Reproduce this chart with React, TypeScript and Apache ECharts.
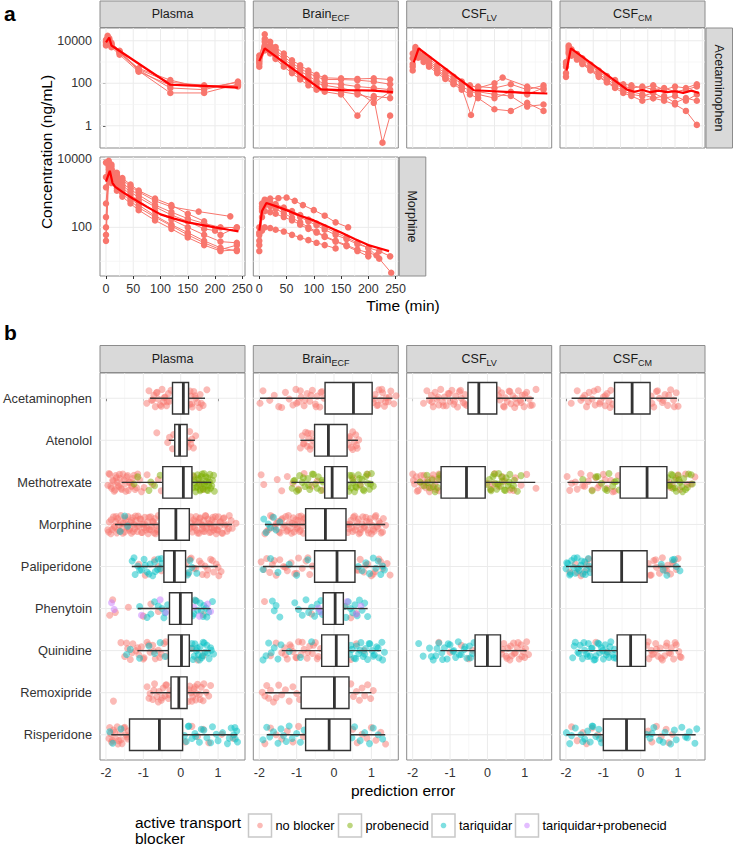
import React, { useEffect, useRef } from 'react';
import * as echarts from 'echarts';

const W = 734;
const H = 845;
const FONT = '"Liberation Sans", Arial, Helvetica, sans-serif';

// ---------- shared labels ----------
const DRUGS = ['Acetaminophen', 'Atenolol', 'Methotrexate', 'Morphine', 'Paliperidone', 'Phenytoin', 'Quinidine', 'Remoxipride', 'Risperidone'];
const BLOCKERS = ['no blocker', 'probenecid', 'tariquidar', 'tariquidar+probenecid'];
const BLOCKER_COLORS = ['#F8766D', '#7CAE00', '#00BFC4', '#C77CFF'];
const COMPARTMENTS = [
  { main: 'Plasma', sub: '' },
  { main: 'Brain', sub: 'ECF' },
  { main: 'CSF', sub: 'LV' },
  { main: 'CSF', sub: 'CM' },
];
const ROW_LABELS = ['Acetaminophen', 'Morphine'];
const TIME_TICKS = [0, 50, 100, 150, 200, 250];
const TIME_MINOR = [25, 75, 125, 175, 225];
const CONC_TICKS_ROW1 = [1, 100, 10000];
const CONC_MINOR_ROW1 = [10, 1000];
const CONC_TICKS_ROW2 = [100, 10000];
const CONC_MINOR_ROW2 = [10, 1000];
const PE_TICKS = [-2, -1, 0, 1];
const PE_MINOR = [-1.5, -0.5, 0.5, 1.5];
const DRUG_IDX = [0, 1, 2, 3, 4, 5, 6, 7, 8];

// ---------- panel a: concentration-time profiles (time min, ng/mL) ----------
const AP_SUBJ = [
  [[0, 9000], [3, 14000], [6, 11000], [10, 7000], [25, 3000], [60, 450], [118, 110], [180, 80], [242, 70]],
  [[0, 7000], [3, 12000], [6, 9000], [10, 6000], [25, 2600], [60, 420], [118, 60], [180, 50], [242, 120]],
  [[0, 11000], [3, 17000], [6, 13000], [10, 8000], [25, 3400], [60, 380], [118, 35], [180, 35], [242, 90]],
  [[0, 6000], [3, 10000], [6, 8000], [10, 5000], [25, 2200], [60, 350], [118, 80], [180, 70], [242, 80]],
  [[0, 8500], [3, 13000], [6, 10000], [10, 6500], [25, 2800], [60, 500], [118, 140], [180, 60], [242, 110]],
];
const AP_MEAN = [[0, 8300], [6, 14000], [10, 6000], [118, 85], [180, 75], [242, 63]];

const AB_SUBJ = [
  [[0, 2000], [10, 12000], [20, 6000], [30, 3500], [45, 1800], [60, 900], [75, 500], [90, 300], [105, 200], [120, 150], [150, 150], [180, 140], [210, 120], [240, 90]],
  [[0, 1200], [10, 6000], [20, 3500], [30, 2000], [45, 1000], [60, 500], [75, 280], [90, 160], [105, 100], [120, 80], [150, 60], [180, 40], [210, 12], [240, 40]],
  [[0, 600], [10, 3500], [20, 2500], [30, 1400], [45, 600], [60, 300], [75, 150], [90, 80], [105, 50], [120, 40], [150, 30], [180, 3], [210, 25], [240, 20]],
  [[0, 1500], [10, 20000], [20, 9000], [30, 5000], [45, 2500], [60, 1200], [75, 700], [90, 400], [105, 250], [120, 180], [150, 170], [180, 160], [210, 170], [240, 150]],
  [[0, 800], [10, 5000], [20, 3000], [30, 1600], [45, 800], [60, 400], [75, 200], [90, 120], [105, 70], [120, 50], [150, 40], [180, 30], [210, 20], [226, 0.16], [240, 3]],
  [[0, 1000], [10, 9000], [20, 5000], [30, 2800], [45, 1400], [60, 700], [75, 380], [90, 220], [105, 130], [120, 100], [150, 90], [180, 70], [210, 60], [240, 50]],
];
const AB_MEAN = [[0, 1100], [10, 4400], [113, 52], [150, 48], [180, 47], [210, 45], [245, 38]];

const AL_SUBJ = [
  [[0, 2500], [5, 5000], [10, 3500], [20, 2200], [30, 1400], [45, 700], [60, 380], [75, 200], [90, 120], [105, 80], [120, 60], [150, 100], [165, 185], [210, 70], [240, 50]],
  [[0, 800], [5, 3000], [10, 2500], [20, 1500], [30, 900], [45, 450], [60, 220], [75, 120], [90, 60], [107, 3.2], [120, 40], [150, 30], [180, 25], [210, 8], [240, 10]],
  [[0, 400], [5, 2000], [10, 1600], [20, 1000], [30, 600], [45, 300], [60, 160], [75, 90], [90, 50], [105, 30], [120, 20], [150, 6], [180, 5], [210, 12], [240, 5]],
  [[0, 1500], [5, 4000], [10, 3000], [20, 1900], [30, 1100], [45, 550], [60, 300], [75, 160], [90, 100], [105, 70], [120, 70], [150, 60], [180, 90], [210, 50], [240, 80]],
  [[0, 600], [5, 2500], [10, 2000], [20, 1300], [30, 700], [45, 380], [60, 190], [75, 100], [90, 70], [105, 45], [120, 30], [150, 20], [180, 40], [210, 30], [240, 60]],
];
const AL_MEAN = [[2, 950], [11, 4400], [112, 47], [150, 42], [200, 36], [247, 33]];

const AC_SUBJ = [
  [[0, 1000], [5, 5000], [10, 3500], [20, 2200], [30, 1300], [45, 650], [60, 350], [75, 190], [90, 110], [105, 70], [120, 60], [140, 70], [160, 50], [180, 60], [200, 40], [220, 50], [240, 70]],
  [[0, 200], [5, 3000], [10, 2500], [20, 1500], [30, 900], [45, 450], [60, 230], [75, 120], [90, 70], [105, 45], [120, 30], [140, 25], [160, 35], [180, 20], [200, 25], [220, 15], [240, 30]],
  [[0, 600], [5, 4000], [10, 3000], [20, 1800], [30, 1000], [45, 500], [60, 270], [75, 150], [90, 90], [105, 60], [120, 40], [140, 30], [160, 20], [180, 15], [200, 10], [220, 5], [240, 1.1]],
  [[0, 300], [5, 2500], [10, 2000], [20, 1300], [30, 800], [45, 400], [60, 200], [75, 110], [90, 60], [105, 35], [120, 25], [140, 15], [160, 20], [180, 25], [200, 12], [220, 20], [240, 15]],
  [[0, 800], [5, 6000], [10, 4000], [20, 2400], [30, 1500], [45, 750], [60, 400], [75, 220], [90, 140], [105, 90], [120, 80], [140, 60], [160, 80], [180, 50], [200, 70], [220, 60], [240, 90]],
];
const AC_MEAN = [[1, 400], [9, 4400], [112, 50], [125, 40], [140, 48], [155, 38], [170, 45], [185, 38], [200, 42], [215, 35], [230, 45], [244, 35]];

const MP_SUBJ = [
  [[0, 60], [5, 8000], [10, 6000], [20, 3500], [30, 2500], [45, 1600], [60, 1100], [90, 600], [120, 400], [170, 290], [228, 210]],
  [[0, 100], [5, 7000], [10, 5000], [20, 3000], [30, 2000], [45, 1300], [60, 900], [90, 450], [120, 280], [150, 180], [180, 130], [210, 100], [240, 98]],
  [[0, 500], [5, 6000], [10, 4000], [20, 2200], [30, 1500], [45, 900], [60, 600], [90, 300], [120, 170], [150, 100], [180, 60], [210, 38], [240, 35]],
  [[0, 1500], [5, 5000], [10, 3000], [20, 1800], [30, 1200], [45, 700], [60, 450], [90, 220], [120, 120], [150, 70], [180, 40], [210, 25], [240, 20]],
  [[0, 3000], [5, 9000], [10, 7000], [20, 4000], [30, 2800], [45, 1800], [60, 1200], [90, 700], [120, 450], [150, 250], [180, 150], [210, 60], [240, 100]],
  [[0, 200], [5, 4000], [10, 2500], [20, 1400], [30, 1000], [45, 600], [60, 380], [90, 200], [120, 110], [150, 60], [180, 35], [210, 22], [240, 30]],
  [[0, 8000], [5, 7500], [10, 4500], [20, 2600], [30, 1700], [45, 1100], [60, 750], [90, 400], [120, 230], [150, 150], [180, 90], [200, 80]],
  [[0, 40], [5, 3000], [10, 2000], [20, 1200], [30, 800], [45, 500], [60, 320], [90, 160], [120, 90], [150, 50], [180, 30], [210, 20], [240, 22]],
];
const MP_MEAN = [[0, 2200], [7, 4600], [12, 2000], [17, 1550], [30, 1100], [50, 690], [75, 400], [100, 240], [125, 180], [150, 140], [175, 118], [200, 100], [225, 85], [243, 76]];

const MB_SUBJ = [
  [[0, 60], [5, 400], [10, 650], [20, 700], [35, 720], [50, 750], [65, 600], [80, 450], [100, 320], [120, 220], [140, 140], [163, 100]],
  [[0, 100], [5, 500], [10, 600], [20, 550], [30, 480], [45, 380], [60, 300], [75, 230], [90, 170], [105, 130], [120, 100], [140, 70], [160, 50], [180, 35], [200, 25], [220, 12], [242, 4.6]],
  [[0, 40], [5, 300], [10, 450], [20, 420], [30, 350], [45, 260], [60, 190], [75, 140], [90, 100], [105, 75], [120, 55], [140, 40], [160, 30], [180, 22], [200, 18], [215, 15]],
  [[0, 20], [5, 80], [10, 100], [20, 95], [30, 85], [45, 75], [60, 60], [75, 50], [90, 42], [105, 35], [120, 30], [140, 24]],
  [[0, 70], [5, 350], [10, 500], [20, 480], [30, 420], [45, 340], [60, 260], [75, 200], [90, 150], [105, 115], [120, 85], [140, 60], [160, 45], [180, 32], [200, 25], [220, 20], [240, 14]],
  [[0, 30], [5, 200], [10, 300], [20, 280], [30, 250], [45, 200], [60, 160], [75, 120], [90, 90], [105, 70], [120, 52], [140, 38], [160, 28], [180, 20], [200, 14]],
];
const MB_MEAN = [[0, 80], [5, 300], [13, 520], [30, 420], [50, 320], [75, 220], [100, 160], [125, 105], [150, 70], [175, 45], [200, 30], [225, 23], [238, 20]];

// ---------- panel b: prediction error boxplots [drug, lower whisker, q1, median, q3, upper whisker] ----------
const BOX_PLASMA = [
  [0, -0.82, -0.22, 0.07, 0.21, 0.65],
  [1, -0.32, -0.16, -0.03, 0.17, 0.38],
  [2, -1.58, -0.48, 0.07, 0.30, 0.82],
  [3, -1.76, -0.58, -0.13, 0.23, 1.37],
  [4, -1.31, -0.45, -0.17, 0.13, 0.99],
  [5, -1.15, -0.30, -0.01, 0.30, 0.80],
  [6, -1.16, -0.33, 0.02, 0.23, 0.80],
  [7, -0.81, -0.26, -0.05, 0.17, 0.75],
  [8, -1.86, -1.37, -0.57, 0.05, 1.52],
];
const BOX_BRAIN = [
  [0, -1.98, -0.24, 0.52, 1.02, 1.56],
  [1, -0.90, -0.52, -0.15, 0.35, 0.64],
  [2, -1.14, -0.25, -0.05, 0.35, 1.05],
  [3, -1.85, -0.76, -0.23, 0.32, 1.37],
  [4, -1.90, -0.52, 0.08, 0.56, 1.37],
  [5, -1.04, -0.29, 0.03, 0.25, 0.90],
  [6, -1.40, -0.33, 0.06, 0.39, 1.26],
  [7, -1.84, -0.88, 0.01, 0.40, 1.00],
  [8, -1.80, -0.76, -0.13, 0.44, 1.37],
];
const BOX_LV = [
  [0, -1.64, -0.52, -0.23, 0.25, 1.24],
  [2, -1.96, -1.24, -0.56, -0.06, 1.28],
  [6, -1.26, -0.33, 0.00, 0.35, 1.05],
];
const BOX_CM = [
  [0, -1.85, -0.70, -0.23, 0.25, 0.97],
  [2, -1.96, -0.55, 0.17, 0.70, 1.46],
  [4, -2.00, -1.30, -0.51, 0.17, 1.07],
  [6, -1.68, -0.63, -0.27, 0.13, 1.00],
  [8, -1.99, -1.00, -0.38, 0.11, 1.47],
];

// jittered observations: [drug, blocker, prediction errors]
const PTS_PLASMA: [number, number, number[]][] = [
  [0, 0, [-0.91, -0.85, -0.78, -0.72, -0.68, -0.63, -0.6, -0.55, -0.5, -0.46, -0.42, -0.38, -0.33, -0.3, -0.26, 0.24, 0.27, 0.31, 0.35, 0.4, 0.45, 0.52, 0.6, 0.7]],
  [0, 0, [-0.75, -0.65, -0.52, -0.44, -0.36, 0.25, 0.3, 0.38, 0.5, 0.55]],
  [1, 0, [-0.64, -0.35, -0.3, -0.22, -0.19, 0.19, 0.21, 0.24, 0.27, 0.3, 0.34, 0.4]],
  [2, 0, [-1.95, -1.9, -1.85, -1.82, -1.78, -1.74, -1.7, -1.66, -1.62, -1.58, -1.55, -1.5, -1.45, -1.4, -1.35, -1.3, -1.25, -1.18, -1.1, -1.05, -0.98, -0.9, -0.75, -0.6, -0.52, 0.35, 0.5, 0.6]],
  [2, 0, [-1.92, -1.87, -1.8, -1.76, -1.72, -1.68, -1.64, -1.6, -1.52, -1.47, -1.42, -1.38, -1.32, -1.28, -1.22, -1.15]],
  [2, 1, [-1.25, -1.15, -0.85, -0.8, -0.7, -0.55, 0.32, 0.35, 0.4, 0.42, 0.45, 0.48, 0.5, 0.52, 0.55, 0.58, 0.6, 0.62, 0.65, 0.68, 0.7, 0.72, 0.75, 0.78, 0.8, 0.85, 0.9]],
  [2, 1, [0.33, 0.37, 0.44, 0.47, 0.53, 0.57, 0.63, 0.67, 0.73, 0.77, 0.83, 0.88]],
  [3, 0, [-1.95, -1.91, -1.87, -1.84, -1.8, -1.77, -1.74, -1.71, -1.69, -1.65, -1.63, -1.6, -1.56, -1.54, -1.5, -1.47, -1.43, -1.41, -1.38, -1.34, -1.32, -1.29, -1.25, -1.23, -1.2, -1.16, -1.14, -1.11, -1.07, -1.05, -1.02, -0.98, -0.96, -0.93, -0.89, -0.87, -0.84, -0.8, -0.78, -0.75, -0.71, -0.69, -0.66, -0.62, -0.6, 0.25, 0.29, 0.31, 0.35, 0.37, 0.41, 0.43, 0.47, 0.49, 0.52, 0.56, 0.58, 0.62, 0.64, 0.67, 0.71, 0.73, 0.77, 0.79, 0.82, 0.86, 0.88, 0.91, 0.95, 0.97, 1.01, 1.04, 1.07, 1.1, 1.14, 1.18, 1.24, 1.3, 1.38, 1.48]],
  [3, 0, [-1.93, -1.86, -1.79, -1.73, -1.67, -1.61, -1.55, -1.49, -1.43, -1.37, -1.31, -1.27, -1.21, -1.15, -1.09, -1.03, -0.97, -0.91, -0.85, -0.79, -0.73, -0.67, -0.63, 0.27, 0.33, 0.39, 0.45, 0.51, 0.57, 0.6, 0.66, 0.69, 0.75, 0.81, 0.84, 0.9, 0.93, 0.99, 1.05, 1.12, 1.16, 1.22, 1.28, 1.35]],
  [3, 2, [-1.62, -1.5, -1.42]],
  [4, 2, [-1.3, -1.22, -1.15, -1.05, -0.98, -0.9, -0.82, -0.75, -0.68, -0.6, -0.55, -0.5, 0.18, 0.25, 0.3, 0.43]],
  [4, 2, [-1.25, -1.1, -0.95, -0.85, -0.7, -0.62, -0.52, 0.22]],
  [4, 0, [-1.12, -0.95, -0.7, -0.6, -0.52, 0.15, 0.2, 0.28, 0.35, 0.5, 0.58, 0.65, 0.72, 0.8, 0.88, 0.95, 1.02, 1.08]],
  [4, 0, [0.25, 0.4, 0.55, 0.7, 0.85, 1.0]],
  [5, 0, [-1.9, -1.82, -1.75, -1.4, -1.0, -0.8, -0.6, 0.4, 0.6]],
  [5, 2, [-1.1, -0.9, -0.7, -0.5, -0.42, -0.35, 0.32, 0.38, 0.45, 0.52, 0.6, 0.68, 0.75, 0.85]],
  [5, 2, [-0.8, -0.6, -0.45, 0.35, 0.42, 0.55, 0.62, 0.7]],
  [5, 3, [-1.85, -1.78, -1.05, -0.55, -0.4, 0.35, 0.5, 0.72, 0.8]],
  [6, 0, [-1.6, -1.5, -1.42, -1.35, -1.28, -1.2, -1.12, -1.05, -0.98, -0.9, -0.82, -0.75, -0.68, -0.6, -0.52, -0.45, -0.38, 0.3, 0.45, 0.6]],
  [6, 0, [-1.45, -1.3, -1.15, -1.0, -0.86, -0.72, -0.56, -0.4]],
  [6, 2, [-1.45, -1.35, -1.1, -0.85, -0.7, -0.55, -0.42, 0.28, 0.33, 0.38, 0.42, 0.47, 0.52, 0.56, 0.6, 0.65, 0.7, 0.76, 0.82, 0.88]],
  [6, 2, [0.3, 0.36, 0.44, 0.5, 0.58, 0.63, 0.72, 0.8]],
  [7, 0, [-1.8, -0.9, -0.82, -0.75, -0.7, -0.64, -0.58, -0.52, -0.47, -0.42, -0.38, -0.33, -0.29, 0.2, 0.24, 0.28, 0.32, 0.36, 0.4, 0.45, 0.5, 0.55, 0.6, 0.68, 0.75, 0.8]],
  [7, 0, [-0.85, -0.72, -0.6, -0.5, -0.4, -0.31, 0.22, 0.3, 0.38, 0.42, 0.52, 0.62]],
  [8, 0, [-1.92, -1.88, -1.85, -1.8, -1.75, -1.7, -1.66, -1.62, -1.57, -1.52, -1.47, -1.42, -1.4, 0.12, 0.3, 0.45, 0.6, 0.75, 1.1, 1.4]],
  [8, 0, [-1.9, -1.83, -1.77, -1.68, -1.6, -1.5, -1.44]],
  [8, 2, [-1.9, -1.82, -1.6, 0.1, 0.15, 0.22, 0.3, 0.38, 0.5, 0.62, 0.7, 0.85, 1.0, 1.12, 1.25, 1.35, 1.42, 1.46, 1.5, 1.52]],
  [8, 2, [0.2, 0.4, 0.55, 0.8, 0.95, 1.3, 1.45]],
];
const PTS_BRAIN: [number, number, number[]][] = [
  [0, 0, [-1.98, -1.9, -1.72, -1.6, -1.48, -1.3, -1.2, -1.1, -1.02, -0.95, -0.88, -0.8, -0.72, -0.65, -0.58, -0.5, -0.45, -0.38, -0.32, -0.27, 1.05, 1.1, 1.15, 1.2, 1.25, 1.3, 1.35, 1.4, 1.45, 1.52, 1.6, 1.66]],
  [0, 0, [-1.4, -1.0, -0.9, -0.78, -0.62, -0.48, -0.35, 1.08, 1.18, 1.28, 1.38, 1.48]],
  [1, 0, [-0.9, -0.85, -0.8, -0.76, -0.72, -0.68, -0.64, -0.6, -0.56, 0.38, 0.42, 0.46, 0.5, 0.54, 0.58, 0.62, 0.66]],
  [1, 0, [-0.82, -0.7, -0.62, 0.4, 0.5, 0.6]],
  [2, 0, [-1.95, -1.88, -1.52, -1.4, -1.25, -1.1, -0.95, -0.8, -0.6, -0.45, -0.3, 0.5, 0.7, 0.9]],
  [2, 1, [-1.12, -1.05, -1.0, -0.92, -0.85, -0.78, -0.7, -0.65, -0.58, -0.5, -0.42, -0.35, -0.3, 0.38, 0.42, 0.46, 0.5, 0.55, 0.6, 0.65, 0.7, 0.75, 0.8, 0.85, 0.9, 0.95, 1.0, 1.05]],
  [2, 1, [-1.08, -0.95, -0.82, -0.68, -0.55, -0.45, -0.32, 0.4, 0.48, 0.52, 0.58, 0.68, 0.78, 0.88, 0.98]],
  [3, 2, [-1.88, -1.82, -1.76, -1.7, -1.62, -1.55, -1.45]],
  [3, 0, [-1.85, -1.75, -1.65, -1.58, -1.5, -1.44, -1.38, -1.32, -1.27, -1.22, -1.17, -1.12, -1.07, -1.02, -0.98, -0.94, -0.9, -0.86, -0.82, -0.78, 0.35, 0.4, 0.45, 0.5, 0.55, 0.6, 0.65, 0.7, 0.75, 0.8, 0.85, 0.9, 0.95, 1.0, 1.05, 1.1, 1.15, 1.2, 1.26, 1.32, 1.38]],
  [3, 0, [-1.8, -1.7, -1.6, -1.54, -1.47, -1.41, -1.35, -1.29, -1.24, -1.19, -1.14, -1.09, -1.04, -1.0, -0.96, -0.92, -0.88, -0.84, -0.8, 0.37, 0.42, 0.47, 0.52, 0.57, 0.62, 0.67, 0.72, 0.77, 0.82, 0.87, 0.92, 0.97, 1.02, 1.07, 1.12, 1.18, 1.23, 1.3]],
  [4, 0, [-1.95, -1.88, -1.8, -1.72, -1.65, -1.55, -1.45, -1.35, -1.25, -1.15, -1.05, -0.95, -0.85, -0.75, -0.65, -0.58, 0.6, 0.7, 0.8, 0.9, 1.0, 1.1, 1.2, 1.3, 1.42, 1.5]],
  [4, 0, [-1.6, -1.3, -1.0, -0.7, 0.65, 0.85, 1.05, 1.25]],
  [4, 2, [-1.9, -1.7, -1.5, -1.2, -1.0, -0.7, 0.65, 0.75, 0.85, 0.95, 1.05, 1.12, 1.18, 1.25, 1.3, 1.35]],
  [5, 0, [-1.86, -0.6, 0.3, 0.45, 0.6]],
  [5, 2, [-1.65, -1.6, -1.55, -1.45, -1.05, -0.95, -0.85, -0.75, -0.68, -0.6, -0.52, -0.45, -0.4, -0.35, -0.31, 0.28, 0.32, 0.38, 0.44, 0.5, 0.56, 0.62, 0.68, 0.75, 0.82, 0.9]],
  [5, 3, [-0.42, -0.35, 0.35, 0.6, 0.72]],
  [6, 2, [-1.9, -1.82, -1.75, -1.68, -1.6, -1.5, -1.42, -1.2, -0.9, -0.6, 0.42, 0.48, 0.54, 0.6, 0.66, 0.72, 0.78, 0.84, 0.9, 0.96, 1.02, 1.08, 1.14, 1.2, 1.28, 1.35]],
  [6, 2, [0.45, 0.58, 0.7, 0.82, 0.94, 1.05, 1.18, 1.3]],
  [6, 0, [-1.7, -1.55, -1.4, -1.32, -1.25, -1.18, -1.1, -1.02, -0.95, -0.88, -0.8, -0.72, -0.65, -0.58, -0.5, -0.42, -0.36, 0.45, 0.6, 0.8]],
  [6, 0, [-1.3, -1.15, -1.0, -0.85, -0.7, -0.55, -0.45]],
  [7, 0, [-1.92, -1.85, -1.8, -1.75, -1.7, -1.62, -1.55, -1.48, -1.4, -1.3, -1.2, -1.1, -1.0, -0.92, 0.45, 0.52, 0.6, 0.68, 0.75, 0.82, 0.9, 0.98, 1.05]],
  [8, 0, [-1.85, -1.7, -1.55, -1.4, -1.25, -1.1, -0.95, -0.82, 0.5, 0.62, 0.75, 0.88, 1.0, 1.12, 1.25, 1.38]],
  [8, 2, [-1.9, -1.8, -1.72, -1.62, -1.5, -1.42, -1.35, -1.28, -1.2, -1.12, -1.0, -0.9, -0.8, 0.48, 0.55, 0.7, 0.82, 0.95, 1.05, 1.18, 1.3]],
];
const PTS_LV: [number, number, number[]][] = [
  [0, 0, [-1.71, -1.62, -1.55, -1.5, -1.45, -1.4, -1.35, -1.3, -1.25, -1.2, -1.15, -1.1, -1.05, -1.0, -0.95, -0.9, -0.85, -0.8, -0.75, -0.7, -0.65, -0.6, -0.55, 0.28, 0.33, 0.38, 0.43, 0.48, 0.53, 0.58, 0.63, 0.68, 0.73, 0.78, 0.83, 0.88, 0.93, 0.98, 1.05, 1.12, 1.2, 1.3]],
  [0, 0, [-1.48, -1.32, -1.18, -1.02, -0.88, -0.72, -0.6, 0.3, 0.45, 0.6, 0.75, 0.9, 1.0, 1.15]],
  [2, 0, [-2.0, -1.95, -1.9, -1.85, -1.8, -1.75, -1.7, -1.65, -1.6, -1.55, -1.5, -1.45, -1.4, -1.35, -1.3, -1.27, 0.0, 0.1, 0.2, 0.3, 0.45, 0.6, 0.75, 0.9, 1.05, 1.3]],
  [2, 0, [-1.98, -1.88, -1.78, -1.68, -1.58, -1.48, -1.38, -1.3, 0.15, 0.4, 0.7]],
  [2, 1, [-1.8, -1.7, -1.62, -1.55, -1.48, -1.4, -1.33, -1.28, -0.02, 0.05, 0.1, 0.15, 0.2, 0.25, 0.3, 0.35, 0.4, 0.45, 0.5, 0.55, 0.6, 0.65, 0.72, 0.8, 0.9]],
  [2, 1, [-1.6, -1.45, -1.3, 0.08, 0.18, 0.28, 0.38, 0.48, 0.58, 0.7]],
  [6, 2, [-1.84, -1.72, -1.55, -1.45, -1.38, -1.3, -1.22, -1.15, -1.08, -1.0, -0.92, -0.85, -0.78, -0.7, -0.62, -0.55, -0.48, -0.4, -0.36]],
  [6, 2, [-1.5, -1.35, -1.2, -1.05, -0.9, -0.75, -0.6, -0.45]],
  [6, 0, [-1.3, -1.0, -0.7, -0.5, -0.4, 0.38, 0.44, 0.5, 0.55, 0.6, 0.65, 0.7, 0.75, 0.8, 0.85, 0.9, 0.95, 1.0, 1.05, 1.1]],
  [6, 0, [0.4, 0.52, 0.62, 0.72, 0.82, 0.92, 1.02]],
];
const PTS_CM: [number, number, number[]][] = [
  [0, 0, [-1.86, -1.7, -1.6, -1.5, -1.45, -1.38, -1.3, -1.22, -1.15, -1.08, -1.0, -0.95, -0.9, -0.85, -0.8, -0.75, 0.28, 0.35, 0.42, 0.5, 0.58, 0.65, 0.72, 0.8, 0.88, 0.95, 1.0]],
  [0, 0, [-1.55, -1.4, -1.25, -1.1, -0.95, -0.82, 0.3, 0.45, 0.6, 0.75, 0.9]],
  [2, 0, [-1.97, -1.85, -1.7, -1.6, -1.5, -1.4, -1.3, -1.2, -1.1, -1.0, -0.9, -0.8, -0.7, -0.6, 0.75, 0.85, 0.95, 1.05, 1.2, 1.35, 1.45]],
  [2, 0, [-1.9, -1.75, -1.55, -1.35, -1.15, -0.95, -0.75, 0.8, 1.0, 1.25]],
  [2, 1, [-1.55, -1.3, -1.15, -1.05, -0.95, -0.85, -0.75, -0.65, -0.58, 0.72, 0.78, 0.82, 0.86, 0.9, 0.95, 1.0, 1.05, 1.1, 1.15, 1.2, 1.28, 1.38]],
  [2, 1, [-1.2, -0.9, -0.7, 0.75, 0.85, 0.92, 1.02, 1.12, 1.25, 1.35]],
  [4, 2, [-2.0, -1.95, -1.9, -1.85, -1.8, -1.75, -1.7, -1.65, -1.6, -1.55, -1.5, -1.45, -1.4, -1.35, 0.55, 0.7, 0.85, 0.95, 1.05]],
  [4, 2, [-1.98, -1.88, -1.78, -1.68, -1.58, -1.48, -1.38, 0.6, 0.9]],
  [4, 0, [-1.9, -1.75, -1.6, -1.5, -1.4, -1.33, 0.2, 0.28, 0.35, 0.42, 0.5, 0.58, 0.65, 0.72, 0.8, 0.88, 0.95, 1.0]],
  [4, 0, [-1.7, -1.45, 0.25, 0.4, 0.55, 0.7, 0.85]],
  [6, 2, [-1.82, -1.75, -1.68, -1.62, -1.56, -1.5, -1.45, -1.4, -1.35, -1.3, -1.25, -1.2, -1.15, -1.1, -1.05, -1.0, -0.95, -0.9, -0.85, -0.8, -0.75, -0.7, -0.66]],
  [6, 2, [-1.78, -1.65, -1.52, -1.42, -1.32, -1.22, -1.12, -1.02, -0.92, -0.82, -0.72]],
  [6, 0, [-1.2, -0.9, 0.16, 0.22, 0.28, 0.34, 0.4, 0.46, 0.52, 0.58, 0.64, 0.7, 0.76, 0.82, 0.88, 0.95, 1.02, 1.08]],
  [6, 0, [0.2, 0.3, 0.42, 0.55, 0.68, 0.8, 0.92, 1.05]],
  [8, 2, [-1.99, -1.9, -1.75, -1.6, -1.5, -1.42, -1.35, -1.28, -1.2, -1.12, -1.05, 0.15, 0.25, 0.35, 0.5, 0.65, 0.8, 0.95, 1.1, 1.2, 1.3, 1.45, 1.5]],
  [8, 2, [-1.85, -1.55, -1.3, -1.1, 0.3, 0.6, 0.9, 1.25]],
  [8, 0, [-1.85, -1.7, -1.55, -1.45, -1.3, -1.15, -1.03, 0.2, 0.3, 0.42, 0.55, 0.68, 0.75, 0.85]],
];

// vertical jitter offsets (category units), read as spread of points around each row
const JITTER = [0.12, -0.18, 0.05, -0.07, 0.2, -0.14, 0.02, 0.16, -0.21, 0.09, -0.03, 0.18, -0.11, 0.07, -0.19, 0.14, -0.05, 0.21, -0.16, 0.0, 0.1, -0.09, 0.17, -0.2, 0.04, -0.13, 0.19, -0.01, 0.08, -0.17, 0.13, -0.06, 0.22];

// ---------- layout ----------
const PANEL_LEFT = [100, 253.3, 406.7, 560];
const PANEL_W = 145;
const ROW1 = { top: 28, h: 120 };
const ROW2 = { top: 157, h: 119 };
const PB = { top: 373, h: 387 };

function gridLineSeries(xi: number, data: number[][]) {
  return {
    type: 'custom',
    xAxisIndex: xi,
    yAxisIndex: xi,
    z: 1,
    silent: true,
    encode: { x: 0, y: 1 },
    data,
    renderItem: (params: any, api: any) => {
      const cs = params.coordSys;
      const p = api.coord([api.value(0), api.value(1)]);
      const horiz = api.value(2) === 1;
      const major = api.value(3) === 1;
      const shape = horiz
        ? { x1: cs.x, y1: p[1], x2: cs.x + cs.width, y2: p[1] }
        : { x1: p[0], y1: cs.y, x2: p[0], y2: cs.y + cs.height };
      return { type: 'line', shape, style: { stroke: major ? '#EBEBEB' : '#F4F4F4', lineWidth: major ? 1 : 0.7 } };
    },
  };
}

function boxSeries(xi: number, data: number[][]) {
  return {
    type: 'custom',
    xAxisIndex: xi,
    yAxisIndex: xi,
    z: 5,
    silent: true,
    encode: { x: [1, 2, 3, 4, 5], y: 0 },
    data,
    renderItem: (_params: any, api: any) => {
      const c = api.value(0);
      const lo = api.coord([api.value(1), c]);
      const q1 = api.coord([api.value(2), c]);
      const md = api.coord([api.value(3), c]);
      const q3 = api.coord([api.value(4), c]);
      const hi = api.coord([api.value(5), c]);
      const ya = api.coord([api.value(2), c - 0.375])[1];
      const yb = api.coord([api.value(2), c + 0.375])[1];
      const y0 = Math.min(ya, yb);
      const y1 = Math.max(ya, yb);
      const st = { stroke: '#333333', lineWidth: 1.4, fill: null };
      return {
        type: 'group',
        children: [
          { type: 'line', shape: { x1: lo[0], y1: lo[1], x2: q1[0], y2: q1[1] }, style: st },
          { type: 'line', shape: { x1: q3[0], y1: q3[1], x2: hi[0], y2: hi[1] }, style: st },
          { type: 'rect', shape: { x: q1[0], y: y0, width: q3[0] - q1[0], height: y1 - y0 }, style: { stroke: '#333333', lineWidth: 1.4, fill: '#ffffff' } },
          { type: 'line', shape: { x1: md[0], y1: y0, x2: md[0], y2: y1 }, style: { stroke: '#333333', lineWidth: 2.8 } },
        ],
      };
    },
  };
}

function stripText(cx: number, cy: number, main: string, sub: string, rotation = 0) {
  return {
    type: 'text',
    x: cx,
    y: cy,
    rotation,
    z: 101,
    style: {
      text: sub ? `{m|${main}}{s|${sub}}` : `{m|${main}}`,
      rich: {
        m: { fontSize: 12.5, fontFamily: FONT, fill: '#1A1A1A', lineHeight: 16 },
        s: { fontSize: 9, fontFamily: FONT, fill: '#1A1A1A', lineHeight: 10, verticalAlign: 'bottom' },
      },
      align: 'center',
      verticalAlign: 'middle',
    },
  };
}

function stripRect(x: number, y: number, w: number, h: number) {
  return { type: 'rect', z: 100, shape: { x, y, width: w, height: h }, style: { fill: '#D9D9D9', stroke: '#8C8C8C', lineWidth: 1 } };
}

function buildOption() {
  const grids: any[] = [];
  const xAxes: any[] = [];
  const yAxes: any[] = [];
  const series: any[] = [];
  const graphics: any[] = [];

  const labelStyle = { color: '#333333', fontSize: 12.5, fontFamily: FONT };

  // ---- panel a ----
  const topPanels = [
    { row: 0, col: 0, subj: AP_SUBJ, mean: AP_MEAN },
    { row: 0, col: 1, subj: AB_SUBJ, mean: AB_MEAN },
    { row: 0, col: 2, subj: AL_SUBJ, mean: AL_MEAN },
    { row: 0, col: 3, subj: AC_SUBJ, mean: AC_MEAN },
    { row: 1, col: 0, subj: MP_SUBJ, mean: MP_MEAN },
    { row: 1, col: 1, subj: MB_SUBJ, mean: MB_MEAN },
  ];
  topPanels.forEach((p) => {
    const idx = grids.length;
    const r = p.row === 0 ? ROW1 : ROW2;
    const majors = p.row === 0 ? CONC_TICKS_ROW1 : CONC_TICKS_ROW2;
    const minors = p.row === 0 ? CONC_MINOR_ROW1 : CONC_MINOR_ROW2;
    const bottom = p.row === 1;
    const left = p.col === 0;
    grids.push({ left: PANEL_LEFT[p.col], top: r.top, width: PANEL_W, height: r.h, show: true, borderColor: '#8A8A8A', borderWidth: 1, backgroundColor: '#ffffff', outerBoundsMode: 'none' });
    xAxes.push({
      type: 'value', gridIndex: idx, min: -11, max: 255,
      axisLine: { show: false }, splitLine: { show: false },
      axisTick: { show: bottom, customValues: TIME_TICKS, length: 3, lineStyle: { color: '#333333' } },
      axisLabel: { show: bottom, customValues: TIME_TICKS, margin: 6, ...labelStyle },
    });
    yAxes.push({
      type: 'log', logBase: 10, gridIndex: idx,
      min: p.row === 0 ? 0.09 : 3.7, max: p.row === 0 ? 39800 : 11700,
      axisLine: { show: false }, splitLine: { show: false },
      axisTick: { show: left, customValues: majors, length: 3, lineStyle: { color: '#333333' } },
      axisLabel: { show: left, customValues: majors, margin: 8, formatter: (v: number) => String(Math.round(v)), ...labelStyle },
    });
    const gl: number[][] = [];
    TIME_TICKS.forEach((t) => gl.push([t, 100, 0, 1]));
    TIME_MINOR.forEach((t) => gl.push([t, 100, 0, 0]));
    majors.forEach((v) => gl.push([100, v, 1, 1]));
    minors.forEach((v) => gl.push([100, v, 1, 0]));
    series.push(gridLineSeries(idx, gl));
    p.subj.forEach((s) => {
      series.push({
        type: 'line', xAxisIndex: idx, yAxisIndex: idx, data: s, z: 2, silent: true,
        symbol: 'circle', symbolSize: 6.5, showSymbol: true,
        lineStyle: { color: '#F8766D', width: 1 }, itemStyle: { color: '#F8766D' },
      });
    });
    series.push({
      type: 'line', xAxisIndex: idx, yAxisIndex: idx, data: p.mean, z: 3, silent: true,
      symbol: 'none', lineStyle: { color: '#FF0000', width: 2.2 },
    });
  });

  // strips panel a
  COMPARTMENTS.forEach((c, i) => {
    graphics.push(stripRect(PANEL_LEFT[i], 1, PANEL_W, 26.5));
    graphics.push(stripText(PANEL_LEFT[i] + PANEL_W / 2, 14, c.main, c.sub));
  });
  graphics.push(stripRect(PANEL_LEFT[3] + PANEL_W + 1, ROW1.top, 26.5, ROW1.h));
  graphics.push(stripText(PANEL_LEFT[3] + PANEL_W + 14, ROW1.top + ROW1.h / 2, ROW_LABELS[0], '', -Math.PI / 2));
  graphics.push(stripRect(PANEL_LEFT[1] + PANEL_W + 1, ROW2.top, 26.5, ROW2.h));
  graphics.push(stripText(PANEL_LEFT[1] + PANEL_W + 14, ROW2.top + ROW2.h / 2, ROW_LABELS[1], '', -Math.PI / 2));

  // ---- panel b ----
  const bottomPanels = [
    { col: 0, box: BOX_PLASMA, pts: PTS_PLASMA },
    { col: 1, box: BOX_BRAIN, pts: PTS_BRAIN },
    { col: 2, box: BOX_LV, pts: PTS_LV },
    { col: 3, box: BOX_CM, pts: PTS_CM },
  ];
  bottomPanels.forEach((p) => {
    const idx = grids.length;
    const left = p.col === 0;
    grids.push({ left: PANEL_LEFT[p.col], top: PB.top, width: PANEL_W, height: PB.h, show: true, borderColor: '#8A8A8A', borderWidth: 1, backgroundColor: '#ffffff', outerBoundsMode: 'none' });
    xAxes.push({
      type: 'value', gridIndex: idx, min: -2.16, max: 1.72,
      axisLine: { show: false }, splitLine: { show: false },
      axisTick: { show: true, customValues: PE_TICKS, length: 3, lineStyle: { color: '#333333' } },
      axisLabel: { show: true, customValues: PE_TICKS, margin: 6, ...labelStyle },
    });
    yAxes.push({
      type: 'value', gridIndex: idx, min: -0.6, max: 8.6, inverse: true,
      axisLine: { show: false }, splitLine: { show: false },
      axisTick: { show: left, customValues: DRUG_IDX, length: 4, lineStyle: { color: '#333333' } },
      axisLabel: { show: left, customValues: DRUG_IDX, margin: 8, formatter: (v: number) => DRUGS[Math.round(v)] ?? '', color: '#333333', fontSize: 12.8, fontFamily: FONT },
    });
    const gl: number[][] = [];
    PE_TICKS.forEach((v) => gl.push([v, 0, 0, 1]));
    PE_MINOR.forEach((v) => gl.push([v, 0, 0, 0]));
    DRUG_IDX.forEach((d) => gl.push([0, d, 1, 1]));
    series.push(gridLineSeries(idx, gl));

    const byBlocker: number[][][] = [[], [], [], []];
    let k = 0;
    p.pts.forEach(([drug, blk, vals]) => {
      vals.forEach((v) => {
        byBlocker[blk].push([v, drug + JITTER[k % JITTER.length]]);
        k += 1;
      });
    });
    byBlocker.forEach((d, b) => {
      if (!d.length) return;
      series.push({
        type: 'scatter', xAxisIndex: idx, yAxisIndex: idx, data: d, z: 3, silent: true,
        symbol: 'circle', symbolSize: 7,
        itemStyle: { color: BLOCKER_COLORS[b], opacity: 0.5 },
      });
    });
    series.push(boxSeries(idx, p.box));
  });

  COMPARTMENTS.forEach((c, i) => {
    graphics.push(stripRect(PANEL_LEFT[i], 345.5, PANEL_W, 27));
    graphics.push(stripText(PANEL_LEFT[i] + PANEL_W / 2, 359, c.main, c.sub));
  });

  // panel tags and axis titles
  const titleStyle = { fontSize: 15.5, fontFamily: FONT, fill: '#000000' };
  graphics.push({ type: 'text', x: 4, y: 3, style: { text: 'a', fontSize: 21, fontWeight: 'bold', fontFamily: FONT, fill: '#000' } });
  graphics.push({ type: 'text', x: 4, y: 322, style: { text: 'b', fontSize: 21, fontWeight: 'bold', fontFamily: FONT, fill: '#000' } });
  graphics.push({ type: 'text', x: 46, y: 152, rotation: Math.PI / 2, style: { text: 'Concentration (ng/mL)', align: 'center', verticalAlign: 'middle', ...titleStyle } });
  graphics.push({ type: 'text', x: 403, y: 305, style: { text: 'Time (min)', align: 'center', verticalAlign: 'middle', ...titleStyle } });
  graphics.push({ type: 'text', x: 403, y: 790, style: { text: 'prediction error', align: 'center', verticalAlign: 'middle', ...titleStyle } });

  // legend
  graphics.push({ type: 'text', x: 135, y: 822, style: { text: 'active transport', align: 'left', verticalAlign: 'middle', ...titleStyle } });
  graphics.push({ type: 'text', x: 135, y: 838, style: { text: 'blocker', align: 'left', verticalAlign: 'middle', ...titleStyle } });
  const keyX = [248.5, 338.5, 432, 515.5];
  BLOCKERS.forEach((b, i) => {
    graphics.push({ type: 'rect', shape: { x: keyX[i], y: 814, width: 23, height: 23 }, style: { fill: '#ffffff', stroke: '#C8C8C8', lineWidth: 1.5 } });
    graphics.push({ type: 'circle', shape: { cx: keyX[i] + 11.5, cy: 825.5, r: 2.8 }, style: { fill: BLOCKER_COLORS[i], opacity: 0.5 } });
    graphics.push({ type: 'text', x: keyX[i] + 27, y: 825.5, style: { text: b, align: 'left', verticalAlign: 'middle', fontSize: 12.8, fontFamily: FONT, fill: '#000' } });
  });

  return {
    animation: false,
    backgroundColor: '#ffffff',
    textStyle: { fontFamily: FONT },
    grid: grids,
    xAxis: xAxes,
    yAxis: yAxes,
    series,
    graphic: { elements: graphics },
  };
}

export default function App() {
  const ref = useRef<HTMLDivElement>(null);
  useEffect(() => {
    if (!ref.current) return;
    const chart = echarts.init(ref.current, null, { renderer: 'svg', width: W, height: H });
    chart.setOption(buildOption() as any);
    return () => chart.dispose();
  }, []);
  return <div ref={ref} style={{ position: 'absolute', left: 0, top: 0, width: W, height: H, background: '#fff' }} />;
}
